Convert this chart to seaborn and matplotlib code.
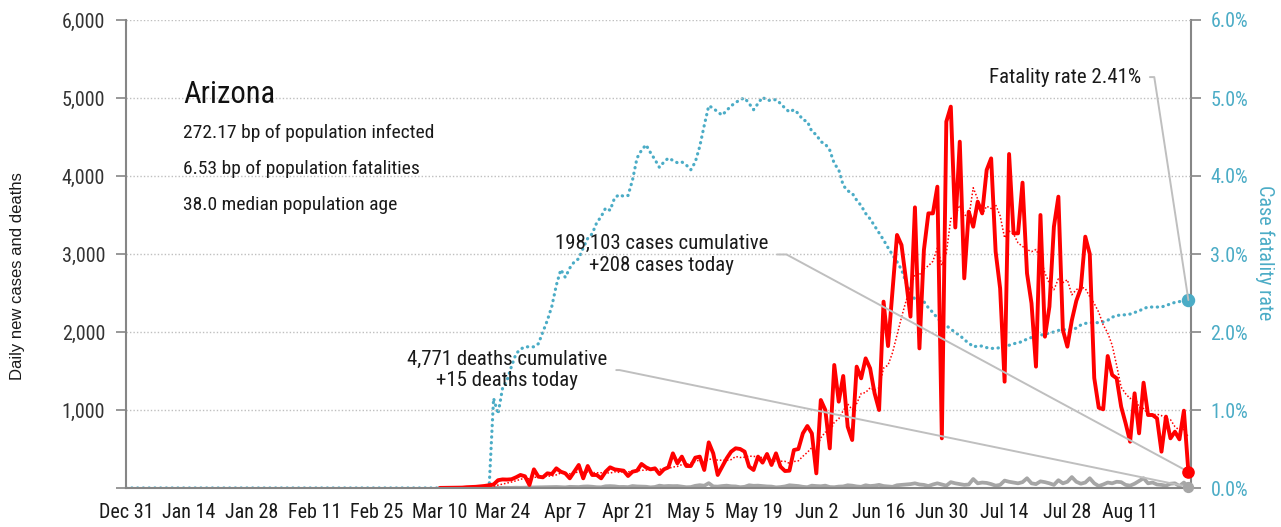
import pandas as pd
import matplotlib
matplotlib.use("Agg")
import matplotlib.pyplot as plt
import matplotlib.dates as mdates
from matplotlib import font_manager
from matplotlib.ticker import FuncFormatter, MultipleLocator
import seaborn as sns

# Arizona, daily series
first_day = "2019-12-31"
last_day = "2020-08-24"

cases_start = "2020-03-10"
cases = [1, 2, 3, 4, 6, 5, 10, 12, 15, 20,
         26, 35, 45, 100, 110, 108, 112, 137, 167, 150,
         38, 239, 145, 137, 188, 179, 252, 209, 188, 124,
         209, 295, 124, 282, 167, 167, 124, 209, 265, 239,
         231, 222, 154, 209, 222, 308, 265, 239, 252, 179,
         239, 265, 444, 316, 402, 282, 282, 389, 402, 231,
         585, 444, 167, 274, 380, 466, 509, 500, 466, 274,
         231, 402, 325, 436, 295, 444, 274, 218, 222, 487,
         500, 701, 795, 700, 188, 1128, 1000, 508, 1577, 1107,
         1436, 786, 615, 1556, 1406, 1662, 1534, 1214, 1000, 2389,
         1820, 2530, 3244, 3115, 2667, 2197, 3598, 1790, 3051, 3521,
         3521, 3863, 637, 4697, 4889, 3340, 4440, 2688, 3543, 3350,
         3671, 3521, 4077, 4226, 3030, 2560, 1363, 4282, 3265, 3265,
         3915, 2752, 2368, 1556, 3500, 1940, 2325, 3350, 3735, 2026,
         1812, 2150, 2400, 2560, 3222, 3000, 1410, 1030, 1009, 1692,
         1449, 1406, 1043, 829, 594, 1214, 701, 1350, 936, 936,
         893, 466, 915, 637, 722, 624, 991, 208]

deaths_start = "2020-03-20"
deaths = [0, 1, 1, 1, 2, 3, 2, 4, 3, 5,
          6, 7, 8, 10, 9, 12, 13, 11, 8, 15,
          14, 12, 18, 20, 16, 10, 9, 22, 24, 21,
          13, 14, 11, 25, 20, 18, 16, 8, 13, 30,
          22, 26, 24, 25, 18, 10, 12, 28, 36, 29,
          62, 20, 18, 25, 30, 22, 20, 10, 15, 35,
          28, 30, 25, 20, 18, 8, 12, 20, 35, 30,
          25, 15, 10, 30, 25, 22, 30, 12, 10, 18,
          20, 35, 30, 20, 15, 35, 25, 30, 40, 25,
          20, 15, 35, 40, 45, 50, 60, 45, 40, 25,
          45, 60, 45, 30, 75, 60, 50, 40, 45, 115,
          60, 70, 65, 50, 30, 40, 95, 80, 70, 60,
          75, 125, 60, 50, 85, 75, 60, 40, 100, 60,
          80, 140, 80, 55, 70, 125, 60, 25, 45, 70,
          60, 80, 75, 40, 30, 55, 90, 125, 60, 70,
          45, 40, 30, 55, 60, 25, 70, 15]

# case fatality rate in percent
cfr_start = "2020-03-20"
cfr_pct = [0.0, 0.0, 1.15, 0.95, 1.28, 1.38, 1.56, 1.72, 1.78, 1.81,
           1.81, 1.81, 1.85, 2.00, 2.15, 2.33, 2.60, 2.80, 2.70, 2.82,
           2.90, 2.94, 3.08, 3.20, 3.26, 3.40, 3.48, 3.59, 3.56, 3.72,
           3.76, 3.74, 3.75, 3.95, 4.23, 4.33, 4.40, 4.30, 4.21, 4.11,
           4.18, 4.23, 4.20, 4.17, 4.18, 4.14, 4.08, 4.18, 4.38, 4.65,
           4.90, 4.87, 4.82, 4.78, 4.84, 4.90, 4.94, 4.98, 5.00, 4.93,
           4.85, 4.93, 5.01, 4.97, 4.97, 4.98, 4.93, 4.87, 4.82, 4.85,
           4.80, 4.72, 4.70, 4.57, 4.53, 4.44, 4.41, 4.33, 4.16, 4.08,
           3.88, 3.81, 3.78, 3.69, 3.62, 3.52, 3.45, 3.36, 3.27, 3.18,
           3.08, 2.99, 2.90, 2.80, 2.64, 2.50, 2.42, 2.41, 2.39, 2.31,
           2.25, 2.18, 2.12, 2.08, 2.04, 1.99, 1.96, 1.90, 1.86, 1.81,
           1.82, 1.82, 1.80, 1.79, 1.79, 1.80, 1.82, 1.83, 1.85, 1.86,
           1.88, 1.91, 1.93, 1.95, 1.96, 1.97, 1.99, 2.00, 2.02, 2.03,
           2.03, 2.03, 2.05, 2.09, 2.11, 2.12, 2.12, 2.12, 2.13, 2.15,
           2.19, 2.21, 2.22, 2.22, 2.23, 2.25, 2.27, 2.30, 2.32, 2.32,
           2.32, 2.32, 2.34, 2.36, 2.38, 2.39, 2.40, 2.41]

state = "Arizona"
facts = ["272.17 bp of population infected",
         "6.53 bp of population fatalities",
         "38.0 median population age"]
cases_note = "198,103 cases cumulative\n+208 cases today"
deaths_note = "4,771 deaths cumulative\n+15 deaths today"
cfr_note = "Fatality rate 2.41%"

RED = "#FF0000"
TEAL = "#4BACC6"
GRAY = "#A6A6A6"
AXIS = "#868686"
LEADER = "#BFBFBF"

# build one daily table
days = pd.date_range(first_day, last_day, freq="D")
df = pd.DataFrame(index=days)
df["cases"] = pd.Series(cases, index=pd.date_range(cases_start, periods=len(cases)))
df["deaths"] = pd.Series(deaths, index=pd.date_range(deaths_start, periods=len(deaths)))
df["cfr"] = pd.Series(cfr_pct, index=pd.date_range(cfr_start, periods=len(cfr_pct))) / 100
df["avg7"] = df["cases"].fillna(0).rolling(7).mean()
df["cfr"] = df["cfr"].fillna(0)
df.loc[cases_start:, "deaths"] = df.loc[cases_start:, "deaths"].fillna(0)
df = df.rename_axis("date").reset_index()

sns.set_style("white")
available = {f.name for f in font_manager.fontManager.ttflist}
narrow = next((f for f in ["Liberation Sans Narrow", "Roboto Condensed", "Open Sans Condensed"]
               if f in available), "DejaVu Sans")
plt.rcParams["font.family"] = [narrow, "DejaVu Sans"]

fig = plt.figure(figsize=(12.81, 5.27), dpi=100)
ax = fig.add_axes([126 / 1281, 39 / 527, 1065 / 1281, 468 / 527])
ax2 = ax.twinx()
ax.set_zorder(ax2.get_zorder() + 1)
ax.patch.set_visible(False)

# fatality rate on the right axis
sns.lineplot(data=df, x="date", y="cfr", ax=ax2, color=TEAL, lw=2.3, errorbar=None,
             linestyle=(0, (0.1, 1.7)), dash_capstyle="round")
last = df.iloc[-1]
ax2.scatter([last["date"]], [last["cfr"]], s=75, color=TEAL, zorder=5, clip_on=False)

# cases and deaths on the left axis
sns.lineplot(data=df, x="date", y="deaths", ax=ax, color=GRAY, lw=2.7, errorbar=None)
sns.lineplot(data=df, x="date", y="cases", ax=ax, color=RED, lw=2.8, errorbar=None)
sns.lineplot(data=df, x="date", y="avg7", ax=ax, color=RED, lw=1.1, errorbar=None,
             linestyle=(0, (1, 1.3)))
ax.scatter([last["date"]], [last["cases"]], s=65, color=RED, zorder=5, clip_on=False)
ax.scatter([last["date"]], [last["deaths"]], s=50, color=GRAY, zorder=5, clip_on=False)

# axes
x0 = pd.Timestamp(first_day)
x1 = pd.Timestamp(last_day) + pd.Timedelta(hours=14)
ax.set_xlim(x0, x1)
ax.set_ylim(0, 6000)
ax2.set_ylim(0, 0.06)
ticks = pd.date_range(first_day, last_day, freq="14D")
ax.set_xticks(ticks)
ax.set_xticklabels([f"{d:%b} {d.day}" for d in ticks])
ax.yaxis.set_major_locator(MultipleLocator(1000))
ax.yaxis.set_major_formatter(FuncFormatter(lambda v, p: "" if v == 0 else f"{v:,.0f}"))
ax2.yaxis.set_major_locator(MultipleLocator(0.01))
ax2.yaxis.set_major_formatter(FuncFormatter(lambda v, p: f"{v:.1%}"))
ax.set_xlabel("")
ax.set_ylabel("")
ax2.set_xlabel("")
ax2.set_ylabel("")

ax.yaxis.grid(True, color=LEADER, lw=1.0, linestyle=(0, (1, 1.5)))
ax.set_axisbelow(True)

for s in ["top", "right"]:
    ax.spines[s].set_visible(False)
for s in ["top", "left", "bottom"]:
    ax2.spines[s].set_visible(False)
for sp in [ax.spines["left"], ax.spines["bottom"], ax2.spines["right"]]:
    sp.set_color(AXIS)
    sp.set_linewidth(1.5)

ax.tick_params(axis="x", direction="out", length=5, width=1.2, color=AXIS,
               labelsize=14.5, labelcolor="#1a1a1a", pad=6)
ax.tick_params(axis="y", direction="out", length=7, width=1.2, color=AXIS,
               labelsize=14.5, labelcolor="#333333", pad=8, left=True)
ax2.tick_params(axis="y", direction="out", length=7, width=1.2, color=AXIS,
                labelsize=14.5, labelcolor=TEAL, pad=7, right=True)

fig.text(17.5 / 1281, 1 - 276 / 527, "Daily new cases and deaths", rotation=90,
         ha="center", va="center", fontsize=12, color="#1a1a1a", family="Liberation Sans")
fig.text(1265 / 1281, 1 - 253 / 527, "Case fatality rate", rotation=270,
         ha="center", va="center", fontsize=14.5, color=TEAL)

# state summary
ax.text(0.0535, 0.84, state, transform=ax.transAxes, ha="left", va="center",
        fontsize=22, color="#111111")
for i, line in enumerate(facts):
    ax.text(0.0535, 0.7585 - i * 0.0765, line, transform=ax.transAxes, ha="left",
            va="center", fontsize=14, color="#1a1a1a")

# leader annotations to the latest values
xd = mdates.date2num(last["date"])
note_style = dict(textcoords="axes fraction", ha="center", va="center", fontsize=15,
                  color="#1a1a1a", linespacing=1.15)
ax.annotate(cases_note, xy=(xd, last["cases"]), xytext=(0.503, 0.499),
            arrowprops=dict(arrowstyle="-", color=LEADER, lw=1.4, shrinkA=4, shrinkB=0,
                            relpos=(1, 0.5),
                            connectionstyle="angle,angleA=0,angleB=151.6,rad=0"),
            **note_style)
ax.annotate(deaths_note, xy=(xd, last["deaths"]), xytext=(0.358, 0.252),
            arrowprops=dict(arrowstyle="-", color=LEADER, lw=1.4, shrinkA=4, shrinkB=0,
                            relpos=(1, 0.5),
                            connectionstyle="angle,angleA=0,angleB=168.4,rad=0"),
            **note_style)
ax.annotate(cfr_note, xy=(xd, last["cfr"] * 100000), xytext=(0.8817, 0.878),
            arrowprops=dict(arrowstyle="-", color=LEADER, lw=1.4, shrinkA=4, shrinkB=0,
                            relpos=(1, 0.5),
                            connectionstyle="angle,angleA=0,angleB=98.7,rad=0"),
            **note_style)

fig.savefig("out.png", dpi=100)
